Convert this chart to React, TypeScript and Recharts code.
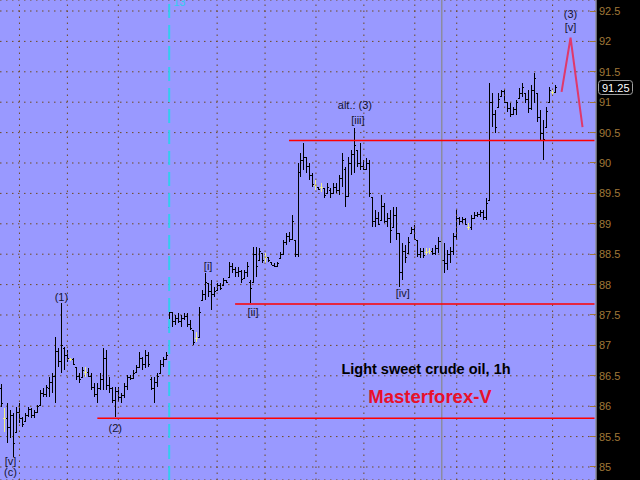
import {
  Bar,
  CartesianGrid,
  ComposedChart,
  Line,
  ReferenceDot,
  ReferenceLine,
  XAxis,
  YAxis,
} from 'recharts';

// Hourly OHLC bars, one entry per hour
const highs = [
  86.37, 85.97, 86.05, 85.94, 85.89, 85.99, 86.05, 85.82, 85.89, 85.99,
  85.97, 85.94, 86.02, 86.27, 86.3, 86.35, 86.48, 86.55, 87.14, 86.96,
  87.7, 86.97, 86.92, 86.79, 86.79, 86.64, 86.55, 86.64, 86.64, 86.63,
  86.55, 86.38, 86.38, 86.55, 86.96, 86.92, 86.48, 86.32, 86.32, 86.32,
  86.22, 86.38, 86.51, 86.51, 86.6, 86.68, 86.89, 86.81, 86.92, 86.89,
  86.48, 86.48, 86.55, 86.76, 86.81, 86.89, 87.75, 87.55, 87.5, 87.53,
  87.5, 87.53, 87.53, 87.42, 87.25, 87.22, 87.63, 87.91, 88.19, 88.03,
  88.08, 87.96, 88.03, 88.03, 88.11, 88.08, 88.37, 88.36, 88.29, 88.29,
  88.24, 88.24, 88.37, 88.08, 88.62, 88.62, 88.6, 88.52, 88.52, 88.45,
  88.37, 88.36, 88.37, 88.54, 88.73, 88.85, 88.87, 89.15, 88.73, 90.0,
  90.16, 90.33, 90.1, 90.0, 89.84, 89.72, 89.6, 89.67, 89.59, 89.67,
  89.59, 89.67, 89.67, 89.8, 90.16, 89.93, 90.1, 90.21, 90.58, 90.21,
  90.33, 90.05, 90.08, 90.05, 89.44, 89.23, 89.19, 89.47, 89.34, 89.18,
  89.23, 89.28, 89.28, 88.85, 88.69, 88.65, 88.78, 88.95, 88.98, 88.73,
  88.6, 88.6, 88.6, 88.6, 88.6, 88.65, 88.78, 88.78, 88.69, 88.57,
  88.62, 88.85, 89.23, 89.12, 89.12, 89.1, 89.01, 89.15, 89.19, 89.19,
  89.23, 89.23, 89.42, 91.32, 91.15, 90.87, 91.15, 91.2, 91.2, 91.0,
  90.99, 90.92, 91.04, 91.23, 91.32, 91.15, 91.2, 91.28, 91.48, 91.15,
  90.87, 90.71, 90.92, 91.25, 91.2, 91.28,
];
const lows = [
  85.99, 85.57, 85.4, 85.48, 85.16, 85.56, 85.72, 85.66, 85.74, 85.82,
  85.81, 85.81, 85.9, 86.02, 86.15, 86.15, 86.15, 86.22, 86.05, 86.64,
  86.55, 86.6, 86.73, 86.74, 86.68, 86.43, 86.38, 86.48, 86.48, 86.48,
  86.27, 86.15, 86.05, 86.27, 86.27, 86.27, 86.22, 86.05, 85.82, 86.07,
  86.05, 86.13, 86.27, 86.43, 86.46, 86.56, 86.64, 86.6, 86.63, 86.64,
  86.27, 86.05, 86.32, 86.55, 86.64, 86.76, 87.25, 87.3, 87.34, 87.37,
  87.3, 87.42, 87.3, 87.25, 87.01, 87.06, 87.14, 87.75, 87.75, 87.8,
  87.58, 87.8, 87.91, 87.91, 87.99, 88.03, 88.12, 88.19, 88.12, 88.12,
  88.03, 88.11, 88.12, 87.7, 88.04, 88.12, 88.38, 88.36, 88.36, 88.37,
  88.32, 88.29, 88.29, 88.44, 88.49, 88.65, 88.7, 88.73, 88.45, 88.45,
  89.77, 89.88, 89.84, 89.72, 89.61, 89.56, 89.56, 89.52, 89.42, 89.51,
  89.42, 89.51, 89.51, 89.47, 89.61, 89.28, 89.44, 89.8, 89.84, 89.93,
  89.88, 89.88, 89.88, 89.44, 88.95, 88.95, 88.98, 89.06, 89.01, 88.95,
  88.69, 88.95, 88.73, 87.96, 88.08, 88.36, 88.52, 88.85, 88.73, 88.45,
  88.44, 88.44, 88.49, 88.5, 88.49, 88.49, 88.52, 88.32, 88.19, 88.24,
  88.36, 88.49, 88.73, 88.98, 89.01, 88.98, 88.9, 88.9, 89.1, 89.11,
  89.11, 89.06, 89.06, 89.39, 90.59, 90.49, 90.92, 91.09, 90.99, 90.84,
  90.76, 90.79, 90.79, 91.07, 91.09, 90.99, 90.82, 90.87, 90.99, 90.67,
  90.38, 90.05, 90.59, 90.99, 91.12, 91.15,
];
const opens = [
  86.3, 85.8, 85.8, 85.65, 85.85, 85.58, 85.9, 85.8, 85.75, 85.85,
  85.95, 85.85, 85.9, 86.02, 86.22, 86.2, 86.3, 86.4, 86.5, 86.9,
  86.75, 86.95, 86.85, 86.77, 86.77, 86.64, 86.5, 86.48, 86.56, 86.56,
  86.5, 86.32, 86.2, 86.3, 86.45, 86.8, 86.35, 86.3, 86.1, 86.25,
  86.15, 86.18, 86.33, 86.48, 86.47, 86.56, 86.65, 86.8, 86.7, 86.85,
  86.45, 86.3, 86.4, 86.55, 86.7, 86.78, 87.3, 87.55, 87.4, 87.45,
  87.4, 87.45, 87.48, 87.35, 87.25, 87.12, 87.14, 87.75, 87.85, 88.03,
  87.9, 87.85, 87.91, 88.0, 87.99, 88.08, 88.12, 88.3, 88.25, 88.2,
  88.22, 88.11, 88.2, 88.05, 88.05, 88.5, 88.4, 88.52, 88.45, 88.45,
  88.37, 88.33, 88.3, 88.44, 88.5, 88.7, 88.8, 88.75, 88.73, 88.5,
  89.85, 90.05, 90.1, 89.95, 89.8, 89.64, 89.6, 89.6, 89.59, 89.51,
  89.55, 89.51, 89.6, 89.55, 89.75, 89.9, 89.45, 90.0, 90.15, 90.21,
  90.0, 89.95, 89.9, 90.0, 89.44, 89.05, 89.1, 89.06, 89.3, 89.05,
  89.1, 88.95, 89.15, 88.85, 88.2, 88.55, 88.52, 88.85, 88.92, 88.73,
  88.5, 88.55, 88.54, 88.55, 88.55, 88.52, 88.6, 88.72, 88.4, 88.35,
  88.5, 88.55, 88.8, 89.1, 89.05, 89.08, 88.95, 88.95, 89.1, 89.15,
  89.16, 89.2, 89.12, 89.39, 91.0, 90.8, 90.92, 91.1, 91.18, 91.0,
  90.9, 90.8, 90.88, 91.07, 91.15, 91.15, 91.05, 90.9, 91.2, 91.15,
  90.75, 90.5, 90.6, 91.0, 91.16, 91.16,
];
const closes = [
  86.05, 85.8, 85.65, 85.85, 85.4, 85.9, 85.8, 85.7, 85.85, 85.95,
  85.85, 85.9, 86.0, 86.22, 86.2, 86.32, 86.4, 86.5, 86.9, 86.75,
  87.0, 86.85, 86.8, 86.77, 86.7, 86.5, 86.45, 86.6, 86.56, 86.5,
  86.32, 86.2, 86.3, 86.45, 86.8, 86.35, 86.3, 86.1, 86.25, 86.15,
  86.18, 86.33, 86.48, 86.47, 86.55, 86.65, 86.8, 86.7, 86.85, 86.7,
  86.3, 86.4, 86.5, 86.7, 86.78, 86.85, 87.55, 87.4, 87.45, 87.4,
  87.45, 87.48, 87.35, 87.28, 87.05, 87.12, 87.55, 87.85, 88.05, 87.9,
  87.85, 87.9, 88.0, 87.95, 88.08, 88.05, 88.3, 88.25, 88.2, 88.22,
  88.1, 88.2, 88.3, 87.95, 88.5, 88.3, 88.55, 88.4, 88.45, 88.4,
  88.33, 88.3, 88.35, 88.5, 88.7, 88.8, 88.75, 89.05, 88.5, 89.85,
  90.05, 90.1, 89.95, 89.8, 89.65, 89.64, 89.58, 89.6, 89.48, 89.6,
  89.5, 89.6, 89.55, 89.75, 90.05, 89.45, 90.0, 90.15, 90.3, 90.0,
  89.95, 89.9, 90.0, 89.5, 89.05, 89.1, 89.0, 89.3, 89.05, 89.1,
  88.9, 89.15, 88.85, 88.2, 88.55, 88.45, 88.7, 88.92, 88.75, 88.5,
  88.55, 88.48, 88.54, 88.55, 88.52, 88.6, 88.72, 88.4, 88.35, 88.5,
  88.55, 88.8, 89.1, 89.05, 89.08, 89.0, 88.95, 89.1, 89.15, 89.16,
  89.2, 89.12, 89.35, 91.0, 90.8, 90.6, 91.05, 91.18, 91.0, 90.9,
  90.8, 90.88, 91.0, 91.15, 91.25, 91.05, 90.9, 91.2, 91.4, 90.75,
  90.5, 90.4, 90.85, 91.2, 91.16, 91.25,
];

// Projected wave [v] path: [bar slot, price]
const projection: [number, number][] = [
  [187, 91.17],
  [190, 92.06],
  [194, 90.59],
];

const SLOTS = 199;
const priceTicks = [85, 85.5, 86, 86.5, 87, 87.5, 88, 88.5, 89, 89.5, 90, 90.5, 91, 91.5, 92, 92.5];

// Support / resistance levels drawn from a start slot to the right edge
const levels = [
  { from: 96, price: 90.37 },
  { from: 78, price: 87.68 },
  { from: 32, price: 85.8 },
];

// Session separators
const sessionSlots = [6, 22, 39, 72, 88, 105, 121, 138, 152, 168, 184];
const markerSlot = 56;
const nowSlot = 147;

const waveLabels = [
  { slot: 20, price: 87.8, text: '(1)' },
  { slot: 38, price: 85.64, text: '(2)' },
  { slot: 3, price: 85.1, text: '[v]' },
  { slot: 3, price: 84.91, text: '(c)' },
  { slot: 69, price: 88.31, text: '[i]' },
  { slot: 84, price: 87.55, text: '[ii]' },
  { slot: 118, price: 90.95, text: 'alt.: (3)' },
  { slot: 119, price: 90.71, text: '[iii]' },
  { slot: 134, price: 87.86, text: '[iv]' },
  { slot: 190, price: 92.45, text: '(3)' },
  { slot: 190, price: 92.24, text: '[v]' },
];

const BG = '#9999ff';
const GRID = '#6e4a22';
const DOTS = '1.5 4.5';
const AXIS_INK = '#a07838';
const FONT = '"Liberation Sans", Arial, sans-serif';

const rows = Array.from({ length: SLOTS }, (_, i) => {
  const p = projection.find(([s]) => s === i);
  return i < highs.length
    ? {
        i,
        range: [lows[i], highs[i]],
        high: highs[i],
        low: lows[i],
        open: opens[i],
        close: closes[i],
        proj: null,
      }
    : { i, range: null, proj: p ? p[1] : null };
});

const lastClose = closes[closes.length - 1];

function OhlcBar(props: any) {
  const { x, y, width, height, payload } = props;
  if (!payload || payload.high == null) return null;
  const top = Math.min(y, y + height);
  const h = Math.abs(height);
  const span = payload.high - payload.low || 1;
  const py = (v: number) => Math.round(top + ((payload.high - v) / span) * h) + 0.5;
  const cx = Math.floor(x + width / 2) + 0.5;
  const ink = payload.open === payload.close ? '#eeee88' : '#000';
  return (
    <g stroke={ink} strokeWidth={1} shapeRendering="crispEdges">
      <line x1={cx} x2={cx} y1={top} y2={top + h} />
      <line x1={cx - 1.5} x2={cx} y1={py(payload.open)} y2={py(payload.open)} />
      <line x1={cx} x2={cx + 1.5} y1={py(payload.close)} y2={py(payload.close)} />
    </g>
  );
}

function PriceTick({ x, y, payload }: any) {
  return (
    <g>
      <line x1={x - 6} x2={x} y1={y} y2={y} stroke={AXIS_INK} shapeRendering="crispEdges" />
      <text x={x + 3} y={y + 4} fontSize={11} fill={AXIS_INK} fontFamily={FONT}>
        {payload.value}
      </text>
    </g>
  );
}

function PriceTag({ viewBox }: any) {
  if (!viewBox) return null;
  const x = viewBox.x + viewBox.width + 2;
  const y = viewBox.y;
  return (
    <g>
      <rect x={x + 0.5} y={y - 6.5} width={34} height={14} rx={3} fill="#000" stroke="#a0a0a0" />
      <text x={x + 4} y={y + 4.5} fontSize={11} fill="#fff" fontFamily={FONT}>
        {lastClose.toFixed(2)}
      </text>
    </g>
  );
}

function MarkerTag({ viewBox }: any) {
  if (!viewBox) return null;
  return (
    <text x={viewBox.x + 4} y={6} fontSize={11} fill="#33ccee" fontFamily={FONT}>
      13
    </text>
  );
}

export default function App() {
  return (
    <div style={{ position: 'absolute', left: 0, top: 0, width: 640, height: 480, background: '#000' }}>
      <ComposedChart
        width={640}
        height={480}
        data={rows}
        margin={{ top: 0, right: 0, bottom: 0, left: 0 }}
        barCategoryGap={0}
        barGap={0}
      >
        <CartesianGrid
          vertical={false}
          fill={BG}
          fillOpacity={1}
          stroke={GRID}
          strokeWidth={1}
          strokeOpacity={1}
          strokeDasharray={DOTS}
        />
        <XAxis dataKey="i" type="category" hide />
        <YAxis
          orientation="right"
          width={44}
          domain={[84.786, 92.681]}
          ticks={priceTicks}
          interval={0}
          allowDataOverflow
          tickSize={0}
          tickMargin={0}
          tickLine={false}
          axisLine={{ stroke: '#8c8c9c', strokeWidth: 1.5 }}
          tick={<PriceTick />}
        />
        {sessionSlots.map((s) => (
          <ReferenceLine
            key={s}
            x={s}
            stroke={GRID}
            strokeWidth={1}
            strokeOpacity={1}
            strokeDasharray={DOTS}
          />
        ))}
        <ReferenceLine
          x={markerSlot}
          stroke="#33ccee"
          strokeWidth={2}
          strokeDasharray="14 7"
          label={<MarkerTag />}
        />
        <ReferenceLine x={nowSlot} stroke="#8c8ca0" strokeWidth={1.5} />
        {levels.map((l) => (
          <ReferenceLine
            key={l.price}
            segment={[
              { x: l.from, y: l.price },
              { x: SLOTS - 1, y: l.price },
            ]}
            stroke="#ff0000"
            strokeWidth={1.5}
          />
        ))}
        <Bar dataKey="range" shape={<OhlcBar />} isAnimationActive={false} />
        <Line
          dataKey="proj"
          stroke="#e0386a"
          strokeWidth={2}
          dot={false}
          connectNulls
          isAnimationActive={false}
        />
        {waveLabels.map((w) => (
          <ReferenceDot
            key={`${w.slot}-${w.text}`}
            x={w.slot}
            y={w.price}
            r={0}
            shape={(p: any) => (
              <text
                x={p.cx}
                y={p.cy + 4}
                textAnchor="middle"
                fontSize={11}
                fill="#141430"
                fontFamily={FONT}
              >
                {w.text}
              </text>
            )}
          />
        ))}
        <ReferenceLine y={lastClose} stroke="none" label={<PriceTag />} />
      </ComposedChart>
      <div
        style={{
          position: 'absolute',
          left: 326,
          top: 361,
          width: 200,
          textAlign: 'center',
          font: `bold 14.5px ${FONT}`,
          color: '#000',
        }}
      >
        Light sweet crude oil, 1h
      </div>
      <div
        style={{
          position: 'absolute',
          left: 330,
          top: 386,
          width: 200,
          textAlign: 'center',
          font: `bold 18.5px ${FONT}`,
          color: '#e8102a',
        }}
      >
        Masterforex-V
      </div>
    </div>
  );
}
